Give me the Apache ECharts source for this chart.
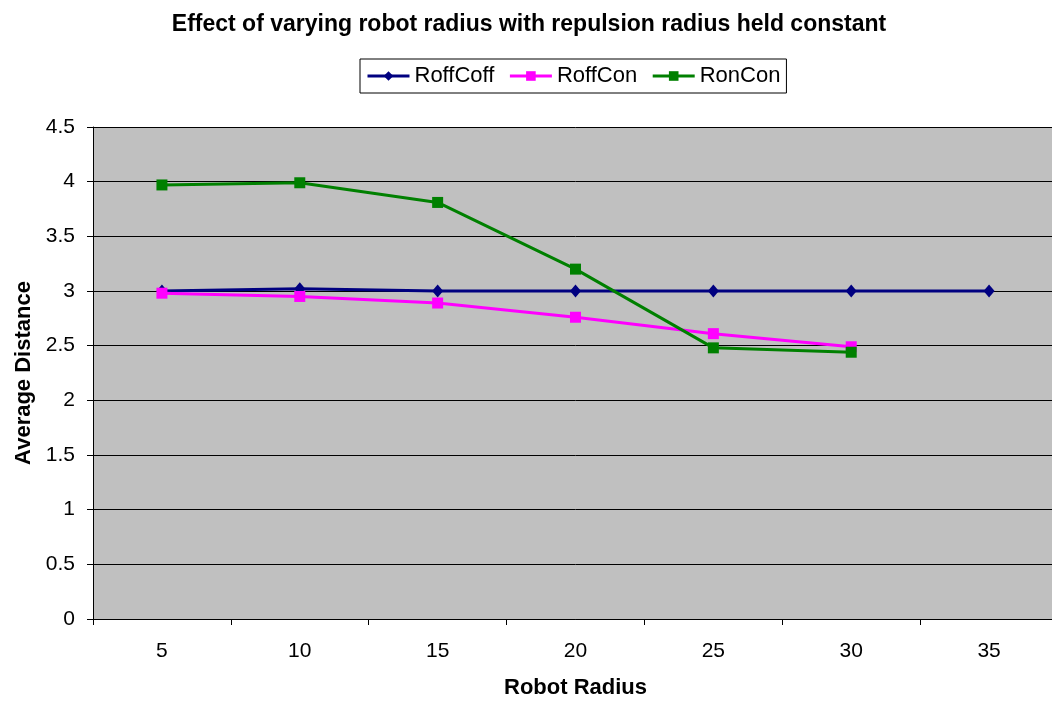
<!DOCTYPE html>
<html>
<head>
<meta charset="utf-8">
<script src="https://cdn.jsdelivr.net/npm/echarts@6/dist/echarts.min.js"></script>
<style>
  html, body { margin: 0; padding: 0; background: #fff; overflow: hidden; }
  #chart { width: 1058px; height: 704px; }
</style>
</head>
<body>
<div id="chart"></div>
<script>
// Robot radius values along the x axis
const robotRadius = ['5', '10', '15', '20', '25', '30', '35'];

// Average distance per configuration
const roffCoff = [3.0, 3.02, 3.0, 3.0, 3.0, 3.0, 3.0];
const roffCon  = [2.98, 2.95, 2.89, 2.76, 2.61, 2.49];
const ronCon   = [3.97, 3.99, 3.81, 3.20, 2.48, 2.44];

const FONT = '"Liberation Sans", Arial, sans-serif';

const chart = echarts.init(document.getElementById('chart'));

chart.setOption({
  animation: false,
  backgroundColor: '#ffffff',
  textStyle: { fontFamily: FONT, color: '#000' },
  title: {
    text: 'Effect of varying robot radius with repulsion radius held constant',
    left: 'center',
    top: 8,
    textStyle: { fontFamily: FONT, fontSize: 23, fontWeight: 'bold', color: '#000' }
  },
  legend: {
    top: 59,
    left: 360,
    backgroundColor: '#ffffff',
    borderColor: '#000',
    borderWidth: 1,
    padding: [6, 6, 6, 6],
    itemGap: 14,
    itemWidth: 42,
    itemHeight: 12,
    lineStyle: { width: 3 },
    textStyle: { fontFamily: FONT, fontSize: 22, color: '#000' },
    data: ['RoffCoff', 'RoffCon', 'RonCon']
  },
  grid: {
    left: 93,
    right: 0,
    top: 127,
    bottom: 85,
    show: true,
    backgroundColor: '#c0c0c0',
    borderWidth: 0
  },
  xAxis: {
    type: 'category',
    data: robotRadius,
    boundaryGap: true,
    name: 'Robot Radius',
    nameLocation: 'middle',
    nameGap: 58,
    nameTextStyle: { fontFamily: FONT, fontSize: 22, fontWeight: 'bold', color: '#000' },
    axisLine: { lineStyle: { color: '#000', width: 1 } },
    axisTick: { show: true, length: 6, lineStyle: { color: '#000' } },
    axisLabel: { fontFamily: FONT, fontSize: 21, color: '#000', margin: 22 },
    splitLine: { show: false }
  },
  yAxis: {
    type: 'value',
    min: 0,
    max: 4.5,
    interval: 0.5,
    name: 'Average Distance',
    nameLocation: 'middle',
    nameGap: 56,
    nameTextStyle: { fontFamily: FONT, fontSize: 22, fontWeight: 'bold', color: '#000' },
    axisLine: { show: true, lineStyle: { color: '#000', width: 1 } },
    axisTick: { show: true, length: 6, lineStyle: { color: '#000' } },
    axisLabel: { fontFamily: FONT, fontSize: 21, color: '#000', margin: 18 },
    splitLine: { show: true, lineStyle: { color: '#000', width: 1 } }
  },
  series: [
    {
      name: 'RoffCoff',
      type: 'line',
      data: roffCoff,
      symbol: 'diamond',
      symbolSize: [11, 13],
      color: '#000080',
      lineStyle: { width: 3, color: '#000080' },
      itemStyle: { color: '#000080' },
      z: 3
    },
    {
      name: 'RoffCon',
      type: 'line',
      data: roffCon,
      symbol: 'rect',
      symbolSize: 11,
      color: '#ff00ff',
      lineStyle: { width: 3, color: '#ff00ff' },
      itemStyle: { color: '#ff00ff' },
      z: 4
    },
    {
      name: 'RonCon',
      type: 'line',
      data: ronCon,
      symbol: 'rect',
      symbolSize: 11,
      color: '#008000',
      lineStyle: { width: 3, color: '#008000' },
      itemStyle: { color: '#008000' },
      z: 5
    }
  ]
});
</script>
</body>
</html>
